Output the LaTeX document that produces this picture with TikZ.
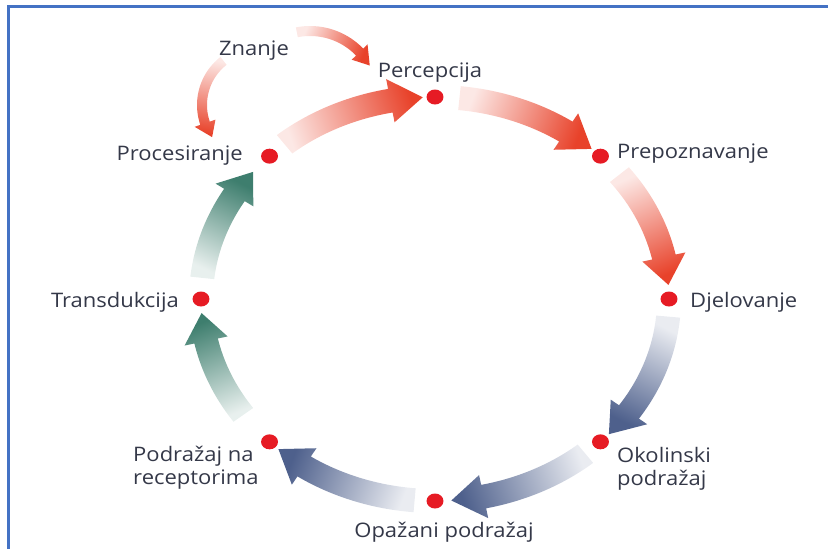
\documentclass[tikz,border=0pt]{standalone}
\usepackage{fontspec}
\setmainfont{Open Sans}
\usetikzlibrary{positioning, calc}

\definecolor{frameblue}{RGB}{68,114,196}
\definecolor{dotred}{RGB}{230,27,36}
\definecolor{labelgray}{RGB}{52,56,72}
\definecolor{ringred}{RGB}{232,66,42}
\definecolor{ringblue}{RGB}{78,96,140}
\definecolor{ringgreen}{RGB}{62,126,110}

% half widths of shaft and head
\def\shw{12}
\def\hdw{22}

% shaded arc arrow: centre x, centre y, x radius, y radius, start, head start, tip, colour
\newcommand{\arcarrow}[8]{%
  \pgfmathsetmacro{\chx}{#3*(cos(#7)-cos(#5))}%
  \pgfmathsetmacro{\chy}{-#4*(sin(#7)-sin(#5))}%
  \pgfmathsetmacro{\shang}{atan2(\chy,\chx)+90}%
  \shade[left color=#8!12, right color=#8, shading angle=\shang]
    plot[domain=#5:#6, samples=30] ({#1+(#3+\shw)*cos(\x)}, {#2+(#4+\shw)*sin(\x)})
    -- ({#1+(#3+\hdw)*cos(#6)}, {#2+(#4+\hdw)*sin(#6)})
    -- ({#1+#3*cos(#7)}, {#2+#4*sin(#7)})
    -- ({#1+(#3-\hdw)*cos(#6)}, {#2+(#4-\hdw)*sin(#6)})
    -- plot[domain=#6:#5, samples=30] ({#1+(#3-\shw)*cos(\x)}, {#2+(#4-\shw)*sin(\x)})
    -- cycle;
}

\begin{document}
\begin{tikzpicture}[x=1pt, y=-1pt,
    dot/.style={circle, fill=dotred, inner sep=0pt, minimum size=15pt, xscale=1.13},
    lbl/.style={font=\fontsize{20}{23}\selectfont, text=labelgray, inner sep=0pt, xscale=1.1, align=left}]
  \useasboundingbox (0,0) rectangle (828,549);
  \draw[frameblue, line width=3pt] (8.5,549) -- (8.5,6.5) -- (828,6.5);

  % ring arrows, centre (435,299), radii 234 / 202
  \foreach \ts/\hs/\te/\col in {230/259/267/ringred, 276/304/312/ringred, 322/348/356/ringred,
      5/34/42/ringblue, 50/78/86/ringblue, 95/124/132/ringblue,
      145/168/176/ringgreen, 186/211/219/ringgreen}
    \arcarrow{435}{299}{234}{202}{\ts}{\hs}{\te}{\col};

  % knowledge arrows
  {\def\shw{5}\def\hdw{11}
   \arcarrow{310}{100}{69}{69}{-101}{-44}{-30}{ringred}
   \arcarrow{258}{105}{56}{56}{232}{161}{145}{ringred}}

  % stations
  \foreach \n/\t in {perc/270, prep/315, djel/0, okol/45, opaz/90, podr/135, tran/180, proc/225}
    \node[dot] (\n) at ({435+234*cos(\t)}, {299+202*sin(\t)}) {};

  \node[lbl, anchor=base] (percl) at (430,77) {Percepcija};
  \node[lbl, anchor=base west] (prepl) at (617,158) {Prepoznavanje};
  \node[lbl, anchor=base west] (djell) at (690,307) {Djelovanje};
  \node[lbl, anchor=west] (okoll) at (617,469) {Okolinski\\podražaj};
  \node[lbl, anchor=base] (opazl) at (444,537) {Opažani podražaj};
  \node[lbl, anchor=west] (podrl) at (133,468) {Podražaj na\\receptorima};
  \node[lbl, anchor=base east] (tranl) at (179,307) {Transdukcija};
  \node[lbl, anchor=base east] (procl) at (243,160) {Procesiranje};
  \node[lbl, anchor=base] (znanje) at (254,55) {Znanje};
\end{tikzpicture}
\end{document}
